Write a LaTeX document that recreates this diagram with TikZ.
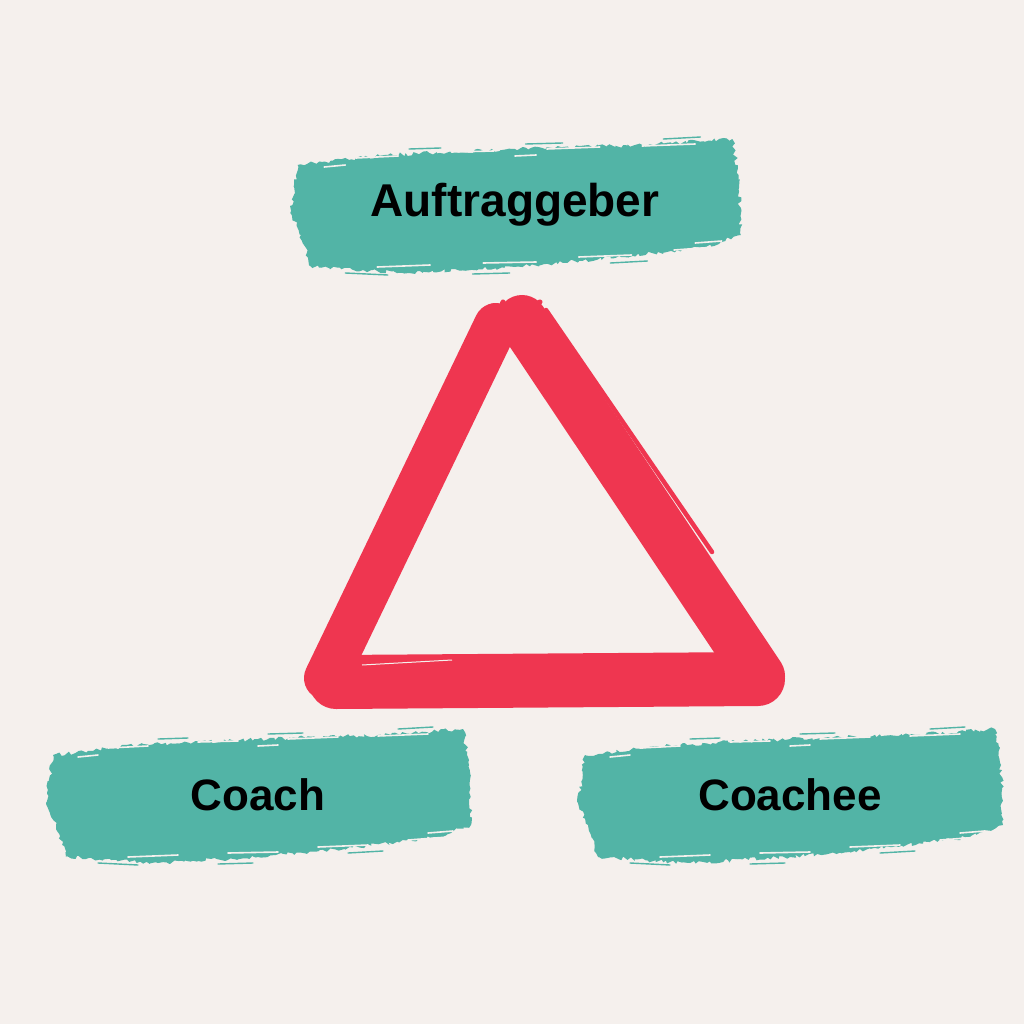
\documentclass[tikz,border=0pt]{standalone}
\usepackage{fontspec}
\setmainfont{Liberation Sans}
\usetikzlibrary{calc,decorations.pathmorphing}

\definecolor{paper}{HTML}{F5F0ED}
\definecolor{brushteal}{HTML}{52B4A6}
\definecolor{signred}{HTML}{EF3650}

\tikzset{
    brush/.style={fill=brushteal, decorate,
        decoration={random steps, segment length=3pt, amplitude=2pt}},
    streak/.style={draw=paper, line width=1.6pt, line cap=round},
    fray/.style={draw=brushteal, line width=1.4pt, line cap=round},
    tri/.style={draw=signred, line cap=round, line join=round},
    label/.style={font=\bfseries\fontsize{44}{50}\selectfont, text=black}
}

\begin{document}
\begin{tikzpicture}[x=1pt,y=-1pt]
    \pgfmathsetseed{7}
    \fill[paper] (0,0) rectangle (1024,1024);
    \useasboundingbox (0,0) rectangle (1024,1024);
    % brush boxes
    \foreach \name/\cx/\cy/\sx/\fs/\txt in {auf/515/205/1.06/46/Auftraggeber, coach/258/795/1/44/Coach, coachee/790/795/1/44/Coachee} {
        \begin{scope}[shift={(\cx,\cy)}, xscale=\sx]
            \fill[brush] (-205,-40) -- (-120,-50) -- (0,-56) -- (120,-60) -- (205,-66)
                -- (211,-30) -- (213,30) -- (180,42) -- (100,52) -- (0,62)
                -- (-100,68) -- (-192,62) -- (-202,30) -- (-212,8) -- cycle;
            \foreach \a/\b/\c/\d in {-150/-47/-110/-49, -60/-53/-20/-54, 30/-56/80/-58,
                    120/-59/170/-61, -130/62/-80/60, -30/58/20/57, 60/52/110/50, 150/45/190/42,
                    -180/-38/-160/-40, 0/-49/20/-50, 170/38/195/36} {
                \draw[streak] (\a,\b) -- (\c,\d);
            }
            \foreach \a/\b/\c/\d in {-100/-56/-70/-57, 10/-61/45/-62, 140/-66/175/-68,
                    -160/68/-120/70, -40/69/-5/68, 90/58/125/56} {
                \draw[fray] (\a,\b) -- (\c,\d);
            }
        \end{scope}
        \node[label, font=\bfseries\fontsize{\fs}{50}\selectfont] (\name) at (\cx,\cy) {\txt};
    }
    % triangle
    \coordinate (lt) at (496,325);
    \coordinate (lb) at (326,678);
    \coordinate (rt) at (522,320);
    \coordinate (rb) at (760,676);
    \coordinate (bl) at (336,682);
    \coordinate (br) at (758,679);
    \draw[tri, line width=44pt] (lt) -- (lb);
    \draw[tri, line width=50pt] (rt) -- (rb);
    \draw[tri, line width=54pt] (bl) -- (br);
    \draw[tri, line width=4.5pt] (546,310) -- (712,552);
    \foreach \a/\b/\c/\d in {484/322/492/306, 497/318/503/302, 510/314/518/304, 525/309/540/302} {
        \draw[tri, line width=5pt] (\a,\b) -- (\c,\d);
    }
    \draw[paper, line width=1pt] (362,665) -- (452,660);
\end{tikzpicture}
\end{document}
